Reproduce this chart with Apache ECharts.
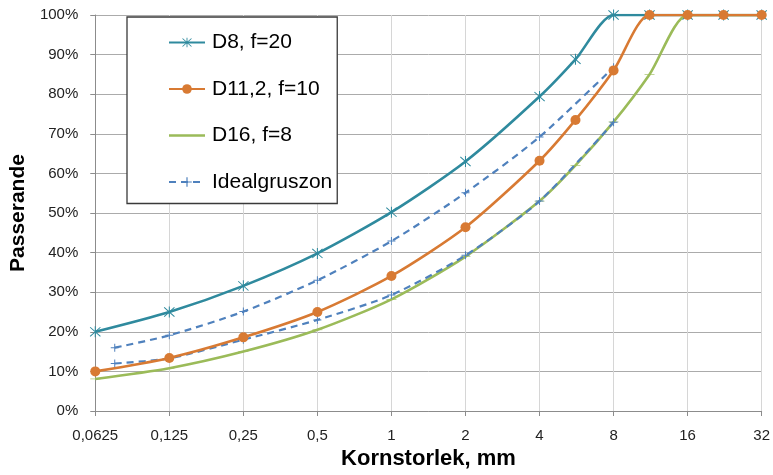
<!DOCTYPE html>
<html>
<head>
<meta charset="utf-8">
<script src="https://cdn.jsdelivr.net/npm/echarts@6/dist/echarts.min.js"></script>
<style>
  html, body { margin: 0; padding: 0; background: #fff; }
  #chart { width: 773px; height: 475px; }
</style>
</head>
<body>
<div id="chart"></div>
<script>
// ---- data ----
var sieveSizes = [0.0625, 0.125, 0.25, 0.5, 1, 2, 4, 5.6, 8, 11.2, 16, 22.4, 32];
var d8Values   = [20, 25, 31.6, 39.8, 50.2, 63, 79.4, 88.8, 100, 100, 100, 100, 100];
var d11Values  = [10, 13.4, 18.6, 25, 34.1, 46.4, 63.2, 73.5, 86, 100, 100, 100, 100];
var d16Values  = [8.1, 10.8, 15, 20.5, 28.2, 39, 53, 62, 73, 85, 100, 100, 100];
var idealSizes = [0.075, 0.125, 0.25, 0.5, 1, 2, 4, 8];
var idealUpper = [16, 19.1, 25.1, 33, 42.9, 55.1, 69.2, 86.8];
var idealLower = [12, 13.3, 18, 23, 29.3, 39.3, 53, 72.9];
var seriesNames = ['D8, f=20', 'D11,2, f=10', 'D16, f=8', 'Idealgruszon'];
var xTitle = 'Kornstorlek, mm';
var yTitle = 'Passerande';

function pairs(xs, ys) { return xs.map(function (x, i) { return [x, ys[i]]; }); }

var FONT = '"Liberation Sans", Arial, sans-serif';
var starPath = 'path://M11 0H13V24H11Z M1.3 2.7L2.7 1.3L22.7 21.3L21.3 22.7Z M21.3 1.3L22.7 2.7L2.7 22.7L1.3 21.3Z';
var plusPath = 'path://M10.5 0H13.5V10.5H24V13.5H13.5V24H10.5V13.5H0V10.5H10.5Z';
var dashPath = 'path://M0 0H10V2.5H0Z';
// legend icon for D16: a plain line (tiny corner dots only fix the bounding box)
var lineIcon = 'path://M0 0h0.05v0.05h-0.05Z M0 4.7H36V7.3H0Z M35.95 11.95h0.05v0.05h-0.05Z';

var C_TEAL = '#2F8A9E', C_ORANGE = '#D87A33', C_GREEN = '#9BBB59', C_BLUE = '#4F81BD';
var SMOOTH = 0.25;

var chart = echarts.init(document.getElementById('chart'), null, { renderer: 'canvas' });
chart.setOption({
  animation: false,
  backgroundColor: '#fff',
  textStyle: { fontFamily: FONT },
  grid: { left: 95, right: 10, top: 15, bottom: 63, containLabel: false },
  xAxis: {
    type: 'log', logBase: 2, min: 0.0625, max: 32, splitNumber: 9,
    name: xTitle, nameLocation: 'middle', nameGap: 37,
    nameTextStyle: { fontSize: 22, fontWeight: 'bold', color: '#000', fontFamily: FONT },
    axisLine: { show: true, lineStyle: { color: '#8c8c8c', width: 1 } },
    axisTick: { show: true, inside: false, length: 5, lineStyle: { color: '#8c8c8c' } },
    minorTick: { show: false },
    axisLabel: {
      fontSize: 15, color: '#222', margin: 17, fontFamily: FONT, showMaxLabel: true, showMinLabel: true,
      formatter: function (v) { return String(parseFloat(v.toPrecision(6))).replace('.', ','); }
    },
    splitLine: { show: true, lineStyle: { color: '#d6d6d6', width: 1 } }
  },
  yAxis: {
    type: 'value', min: 0, max: 100, interval: 10,
    name: yTitle, nameLocation: 'middle', nameGap: 50, nameRotate: 90,
    nameTextStyle: { fontSize: 21, fontWeight: 'bold', color: '#000', fontFamily: FONT },
    axisLine: { show: true, lineStyle: { color: '#8c8c8c', width: 1 } },
    axisTick: { show: true, inside: false, length: 5, lineStyle: { color: '#8c8c8c' } },
    axisLabel: { fontSize: 15, color: '#222', margin: 17, fontFamily: FONT, formatter: '{value}%' },
    splitLine: { show: true, lineStyle: { color: '#ababab', width: 1 } }
  },
  legend: {
    orient: 'vertical', left: 127, top: 17,
    backgroundColor: '#fff', borderColor: '#3a3a3a', borderWidth: 1.3,
    padding: [15, 5, 11, 41],
    itemWidth: 36, itemHeight: 12, itemGap: 25.5,
    textStyle: { fontSize: 21, color: '#000', fontFamily: FONT, padding: [0, 0, 0, 2] },
    data: [
      { name: seriesNames[0] },
      { name: seriesNames[1] },
      { name: seriesNames[2], icon: lineIcon },
      { name: seriesNames[3] }
    ]
  },
  series: [
    {
      name: seriesNames[0], type: 'line', data: pairs(sieveSizes, d8Values),
      smooth: SMOOTH, color: C_TEAL,
      lineStyle: { width: 2.6, color: C_TEAL },
      symbol: starPath, symbolSize: 11, itemStyle: { color: C_TEAL }, z: 2
    },
    {
      name: seriesNames[2], type: 'line', data: pairs(sieveSizes, d16Values),
      smooth: SMOOTH, color: C_GREEN,
      lineStyle: { width: 2.6, color: C_GREEN },
      symbol: dashPath, symbolSize: [10, 2.5], symbolKeepAspect: true,
      itemStyle: { color: C_GREEN }, z: 2
    },
    {
      name: seriesNames[3], type: 'line', data: pairs(idealSizes, idealUpper),
      smooth: SMOOTH, color: C_BLUE,
      lineStyle: { width: 2.2, color: C_BLUE, type: [7, 5] },
      symbol: plusPath, symbolSize: 8, itemStyle: { color: C_BLUE }, z: 3
    },
    {
      name: seriesNames[3], type: 'line', data: pairs(idealSizes, idealLower),
      smooth: SMOOTH, color: C_BLUE,
      lineStyle: { width: 2.2, color: C_BLUE, type: [7, 5] },
      symbol: plusPath, symbolSize: 8, itemStyle: { color: C_BLUE }, z: 3
    },
    {
      name: seriesNames[1], type: 'line', data: pairs(sieveSizes, d11Values),
      smooth: SMOOTH, color: C_ORANGE,
      lineStyle: { width: 2.6, color: C_ORANGE },
      symbol: 'circle', symbolSize: 10, itemStyle: { color: C_ORANGE }, z: 4
    }
  ]
});
</script>
</body>
</html>
